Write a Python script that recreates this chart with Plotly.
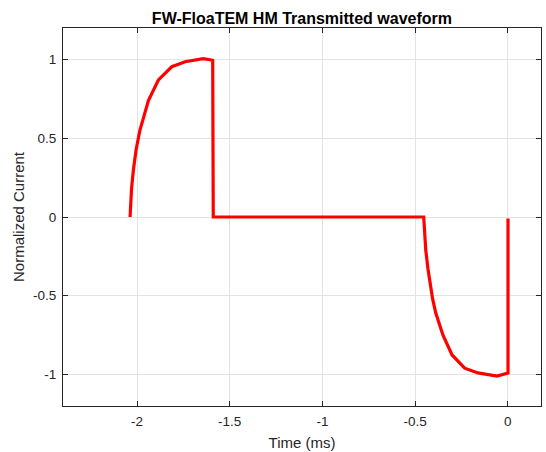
import plotly.graph_objects as go

# Waveform samples (time in ms, normalized current)
time_ms = [-2.038, -2.030, -2.020, -2.005, -1.985, -1.965, -1.939, -1.885, -1.813,
           -1.741, -1.643, -1.592, -1.589,
           -0.453, -0.442, -0.430, -0.420, -0.405, -0.388, -0.349, -0.300, -0.232,
           -0.160, -0.058, 0.002, 0.002]
current = [0.0, 0.18, 0.30, 0.43, 0.55, 0.63, 0.74, 0.87, 0.954,
           0.986, 1.005, 0.995, 0.0,
           0.0, -0.21, -0.33, -0.42, -0.52, -0.61, -0.75, -0.876, -0.96,
           -0.99, -1.01, -0.99, -0.01]

x_ticks = [-2, -1.5, -1, -0.5, 0]
x_labels = ["-2", "-1.5", "-1", "-0.5", "0"]
y_ticks = [-1, -0.5, 0, 0.5, 1]
y_labels = ["-1", "-0.5", "0", "0.5", "1"]

FONT = "Liberation Sans, Arial, sans-serif"

fig = go.Figure()
fig.add_trace(go.Scatter(x=time_ms, y=current, mode="lines",
                         line=dict(color="#ff0000", width=3.2),
                         showlegend=False, hoverinfo="skip"))

axis_common = dict(
    showline=True, linecolor="#262626", linewidth=1, mirror="ticks",
    ticks="inside", ticklen=5, tickcolor="#262626",
    showgrid=True, gridcolor="#e3e3e3", gridwidth=1,
    zeroline=False, automargin=False,
    tickfont=dict(family=FONT, size=13.5, color="#262626"),
)

fig.update_layout(
    width=546, height=452,
    margin=dict(l=63, r=5, t=28, b=46),
    paper_bgcolor="white", plot_bgcolor="white",
    title=dict(text="<b>FW-FloaTEM HM Transmitted waveform</b>",
               font=dict(family=FONT, size=16, color="#000000"),
               x=0.553, xanchor="center", y=0.96, yanchor="middle"),
    xaxis=dict(range=[-2.4, 0.18], tickvals=x_ticks, ticktext=x_labels,
               ticklabelstandoff=3,
               title=dict(text="Time (ms)", standoff=9,
                          font=dict(family=FONT, size=15, color="#262626")),
               **axis_common),
    yaxis=dict(range=[-1.2, 1.2], tickvals=y_ticks, ticktext=y_labels,
               ticklabelstandoff=3,
               title=dict(text="Normalized Current", standoff=4,
                          font=dict(family=FONT, size=15, color="#262626")),
               **axis_common),
)

fig.write_html("out.html",
               config={"displayModeBar": False},
               post_script="document.body.style.margin='0';document.body.style.overflow='hidden';")
